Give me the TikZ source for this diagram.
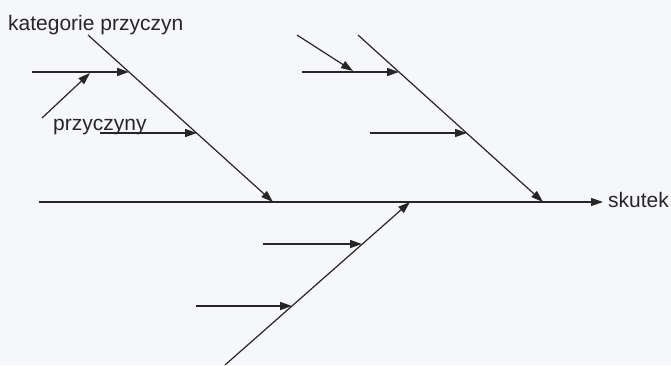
\documentclass[tikz,border=0pt]{standalone}
\usepackage{fontspec}
\setmainfont{Liberation Sans}
\usetikzlibrary{arrows.meta}
\definecolor{bg}{HTML}{F5F7FA}
\definecolor{ink}{HTML}{262626}
\begin{document}
\begin{tikzpicture}[x=1pt,y=-1pt,
  tip/.style={-{Triangle[length=12pt,width=8pt]}},
  bone/.style={draw=ink, line width=1.2pt, tip},
  cause/.style={draw=ink, line width=1.6pt, tip},
  lbl/.style={font=\fontsize{21pt}{25pt}\selectfont, text=ink, inner sep=0pt, anchor=base west}]
\fill[bg] (0,0) rectangle (671,365);
\useasboundingbox (0,0) rectangle (671,365);

% spine
\coordinate (s0) at (39,202);
\coordinate (s1) at (603,202);
% bones
\coordinate (a0) at (88,35);   \coordinate (a1) at (273,202);
\coordinate (b0) at (358,35);  \coordinate (b1) at (543,202);
\coordinate (c0) at (225,365); \coordinate (c1) at (410,202);
% horizontal causes
\coordinate (h1s) at (32,72);   \coordinate (h1e) at (129,72);
\coordinate (h2s) at (100,133); \coordinate (h2e) at (197,133);
\coordinate (h3s) at (302,72);  \coordinate (h3e) at (399,72);
\coordinate (h4s) at (370,133); \coordinate (h4e) at (467,133);
\coordinate (h5s) at (263,244); \coordinate (h5e) at (362,244);
\coordinate (h6s) at (196,306); \coordinate (h6e) at (292,306);
% sub-causes
\coordinate (d1s) at (42,118);  \coordinate (d1e) at (90,73);
\coordinate (d2s) at (297,35);  \coordinate (d2e) at (353,71);

\draw[bone] (s0) -- (s1);
\draw[bone] (a0) -- (a1);
\draw[bone] (b0) -- (b1);
\draw[bone] (c0) -- (c1);

\draw[cause] (h1s) -- (h1e);
\draw[cause] (h2s) -- (h2e);
\draw[cause] (h3s) -- (h3e);
\draw[cause] (h4s) -- (h4e);
\draw[cause] (h5s) -- (h5e);
\draw[cause] (h6s) -- (h6e);

\draw[bone] (d1s) -- (d1e);
\draw[bone] (d2s) -- (d2e);

\node[lbl] (kat) at (8,30) {kategorie przyczyn};
\node[lbl] (prz) at (53,130) {przyczyny};
\node[lbl] (sku) at (608,207) {skutek};
\end{tikzpicture}
\end{document}
